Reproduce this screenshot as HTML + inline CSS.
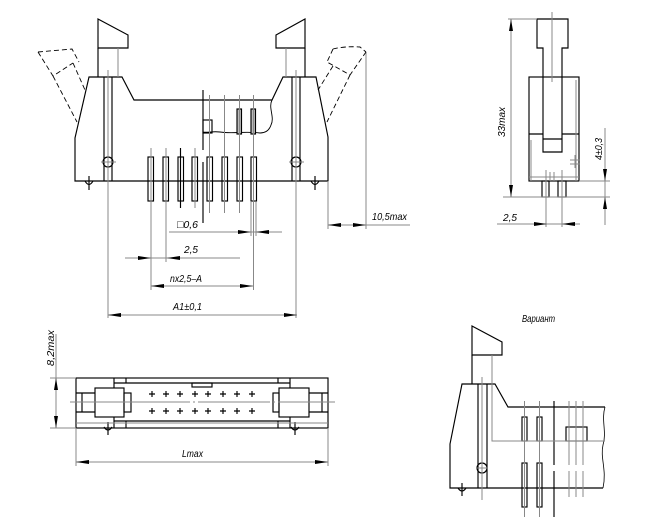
<!DOCTYPE html>
<html><head><meta charset="utf-8"><style>
html,body{margin:0;padding:0;background:#fff;}
svg{display:block;}
text{font-family:"Liberation Sans",sans-serif;font-style:italic;font-size:10.5px;fill:#000;}
</style></head><body>
<svg width="672" height="529" viewBox="0 0 672 529" xmlns="http://www.w3.org/2000/svg">
<rect width="672" height="529" fill="#fff"/>

<!-- ============ MAIN FRONT VIEW ============ -->
<g fill="none" stroke="#000" stroke-width="1.15">
  <path d="M98,19 L128,35 L128,48 L98,48 Z"/>
  <path d="M98,48 V77"/>
  <path d="M276,35 L305,19 L305,48 L276,48 Z"/>
  <path d="M305,48 V77"/>
  <path d="M75,181 V138 L89,77 H122 L134,100 H272 L283,77 H316 L328,137 V181 Z"/>
  <path d="M272,100 C268,108 275,117 271,125 C269,131 265,133 260,133 C245,131 232,134 220,132 C212,131 207,133 203,132" stroke-width="0.9"/>
  <rect x="203" y="120" width="9" height="13"/>
  <path d="M104,77 V181 M112,77 V181 M292,77 V181 M300,77 V181"/>
  <circle cx="108" cy="162" r="5"/>
  <circle cx="296" cy="162" r="5"/>
  <path d="M85,181 Q89,188 93,181 M89,176 V190"/>
  <path d="M311,181 Q315,188 319,181 M315,176 V190"/>
  <path d="M203,90 V150 M203,162 V223"/>
  <path d="M180.5,148 V208"/>
  <rect x="237" y="109" width="4.5" height="25" fill="#bbb"/>
  <rect x="251" y="109" width="4.5" height="25" fill="#bbb"/>
  <rect x="148" y="157" width="5.5" height="44"/>
  <rect x="163" y="157" width="5.5" height="44"/>
  <rect x="178" y="157" width="5.5" height="44"/>
  <rect x="192" y="157" width="5.5" height="44"/>
  <rect x="207" y="157" width="5.5" height="44"/>
  <rect x="222" y="157" width="5.5" height="44"/>
  <rect x="237" y="157" width="5.5" height="44"/>
  <rect x="251" y="157" width="5.5" height="44"/>
</g>
<g fill="none" stroke="#888" stroke-width="1">
  <path d="M118,48 V77 M286,48 V77"/>
  <path d="M108,70 V318 M296,70 V318" />
  <path d="M101,162 H116 M289,162 H304"/>
  <path d="M209.5,95 V213 M224.5,95 V213 M239.5,95 V213 M253.5,95 V213"/>
  <path d="M151,148 V290 M166,148 V262 M195,148 V208"/>
  <path d="M251,202 V236 M256,202 V236 M253.5,202 V290"/>
  <path d="M169,232 H282"/>
  <path d="M125,258 H240"/>
  <path d="M151,286 H253"/>
  <path d="M108,315 H297"/>
  <path d="M328,181 V229 M366,52 V229 M328,225 H410"/>
</g>
<g fill="none" stroke="#000" stroke-width="0.9" stroke-dasharray="5,3">
  <path d="M38,52 L72,49 L79,62 M38,52 L53,76 L73,63 M53,76 L77,122 M73,63 L85,90"/>
  <path d="M333,49 Q345,46 360,47 L366,52 M333,49 L327,62 L350,75 L366,52 M333,66 L318,90 M350,75 L327,122"/>
</g>
<g fill="#000" stroke="none">
  <polygon points="328,225 341,223 341,227"/>
  <polygon points="366,225 353,223 353,227"/>
  <polygon points="251,232 238,230 238,234"/>
  <polygon points="256,232 269,230 269,234"/>
  <polygon points="151,258 138,256 138,260"/>
  <polygon points="167,258 180,256 180,260"/>
  <polygon points="151,286 164,284 164,288"/>
  <polygon points="253,286 240,284 240,288"/>
  <polygon points="108,315 121,313 121,317"/>
  <polygon points="297,315 284,313 284,317"/>
</g>
<text x="177" y="228" textLength="21" lengthAdjust="spacingAndGlyphs">□0,6</text>
<text x="184" y="253" textLength="14" lengthAdjust="spacingAndGlyphs">2,5</text>
<text x="170" y="282" textLength="32" lengthAdjust="spacingAndGlyphs">nx2,5–A</text>
<text x="173" y="310" textLength="29" lengthAdjust="spacingAndGlyphs">A1±0,1</text>
<text x="372" y="220" textLength="35" lengthAdjust="spacingAndGlyphs">10,5max</text>

<!-- ============ SIDE VIEW ============ -->
<g fill="none" stroke="#000" stroke-width="1.15">
  <path d="M537,19 H568 V48 H562 V152 H543 V48 H537 Z"/>
  <path d="M543,139 H562"/>
  <rect x="529" y="77" width="50" height="104"/>
  <path d="M529,134 H543 M562,134 H579"/>
  <rect x="542" y="181" width="7" height="16"/>
  <rect x="558" y="181" width="8" height="16"/>
</g>
<g fill="none" stroke="#888" stroke-width="1">
  <path d="M552,12 V82"/>
  <path d="M531,140 V181 M576,80 V181 M529,177 H579"/>
  <path d="M570,160 H580 M570,164 H580 M575,155 V168"/>
  <path d="M550,172 V181 M554,172 V181"/>
  <path d="M546,170 V227 M562,170 V227"/>
  <path d="M511,19 V197 M508,19 H537 M503,197 H610"/>
  <path d="M605,128 V225 M579,181 H610"/>
  <path d="M497,224 H580"/>
</g>
<g fill="#000">
  <polygon points="511,19 509,31 513,31"/>
  <polygon points="511,197 509,185 513,185"/>
  <polygon points="605,181 603,169 607,169"/>
  <polygon points="605,197 603,209 607,209"/>
  <polygon points="547,224 534,222 534,226"/>
  <polygon points="562,224 575,222 575,226"/>
</g>
<text transform="translate(505,122) rotate(-90)" text-anchor="middle" textLength="30" lengthAdjust="spacingAndGlyphs">33max</text>
<text transform="translate(602,149) rotate(-90)" text-anchor="middle" textLength="22" lengthAdjust="spacingAndGlyphs">4±0,3</text>
<text x="503" y="221" textLength="14" lengthAdjust="spacingAndGlyphs">2,5</text>

<!-- ============ TOP (PLAN) VIEW ============ -->
<g fill="none" stroke="#000" stroke-width="1.15">
  <rect x="76" y="378" width="252" height="50"/>
  <path d="M114,383 H290 M114,421 H290"/>
  <path d="M114,378 V388 M290,378 V388 M114,417 V428 M290,417 V428"/>
  <path d="M126,378 V383 M278,378 V383 M126,421 V428 M278,421 V428"/>
  <rect x="192" y="383" width="20" height="4"/>
  <path d="M76,393 H95 M76,412 H95 M82,393 V412"/>
  <rect x="95" y="388" width="29" height="29"/>
  <rect x="124" y="393" width="7" height="19"/>
  <rect x="279" y="388" width="30" height="29"/>
  <rect x="273" y="393" width="6" height="19"/>
  <path d="M309,393 H328 M309,412 H328 M322,393 V412"/>
  <path d="M104,427 Q108,433 112,427 M108,422 V435"/>
  <path d="M291,427 Q295,433 299,427 M295,422 V435"/>
  <path d="M149,394 H155 M152,391 V397 M163,394 H169 M166,391 V397 M177,394 H183 M180,391 V397 M192,394 H198 M195,391 V397 M205,394 H211 M208,391 V397 M220,394 H226 M223,391 V397 M234,394 H240 M237,391 V397 M249,394 H255 M252,391 V397"/>
  <path d="M149,411 H155 M152,408 V414 M163,411 H169 M166,408 V414 M177,411 H183 M180,408 V414 M192,411 H198 M195,408 V414 M205,411 H211 M208,408 V414 M220,411 H226 M223,408 V414 M234,411 H240 M237,408 V414 M249,411 H255 M252,408 V414"/>
</g>
<g fill="none" stroke="#888" stroke-width="1">
  <path d="M76,423 H328"/>
  <path d="M70,402 H190 M193,402 H195 M198,402 H270 M273,402 H275 M278,402 H335"/>
  <path d="M56,334 V428 M50,378 H76 M50,428 H76"/>
  <path d="M76,428 V466 M328,428 V466 M76,462 H328"/>
</g>
<g fill="#000">
  <polygon points="56,378 54,390 58,390"/>
  <polygon points="56,428 54,416 58,416"/>
  <polygon points="76,462 89,460 89,464"/>
  <polygon points="328,462 315,460 315,464"/>
</g>
<text transform="translate(54,348) rotate(-90)" text-anchor="middle" textLength="36" lengthAdjust="spacingAndGlyphs">8,2max</text>
<text x="182" y="457" textLength="21" lengthAdjust="spacingAndGlyphs">Lmax</text>

<!-- ============ VARIANT VIEW ============ -->
<text x="522" y="322" textLength="33" lengthAdjust="spacingAndGlyphs">Вариант</text>
<g fill="none" stroke="#000" stroke-width="1.15">
  <path d="M472,326 L502,342 V355 H472 Z"/>
  <path d="M472,355 V384"/>
  <path d="M603,488 H450 V444 L462,384 H495 L508,407 H605"/>
  <path d="M605,407 C601,420 607,432 603,445 C600,458 607,470 603,488" stroke-width="0.8"/>
  <path d="M478,384 V488 M487,384 V488"/>
  <circle cx="482" cy="468" r="5"/>
  <path d="M458,488 Q462,494 466,488 M462,483 V496"/>
  <rect x="522" y="417" width="5" height="24"/>
  <rect x="537" y="417" width="5" height="24"/>
  <rect x="522" y="463" width="5" height="44"/>
  <rect x="537" y="463" width="5" height="44"/>
  <path d="M554,401 V465 M554,471 V517"/>
  <rect x="566" y="427" width="21" height="14"/>
</g>
<g fill="none" stroke="#888" stroke-width="1">
  <path d="M492,355 V441 H605"/>
  <path d="M482,377 V500 M476,468 H488"/>
  <path d="M524.5,401 V517 M539.5,401 V517"/>
  <path d="M569,401 V465 M569,471 V497 M576,401 V465 M576,471 V497 M583,401 V465 M583,471 V497"/>
</g>
</svg>
</body></html>
